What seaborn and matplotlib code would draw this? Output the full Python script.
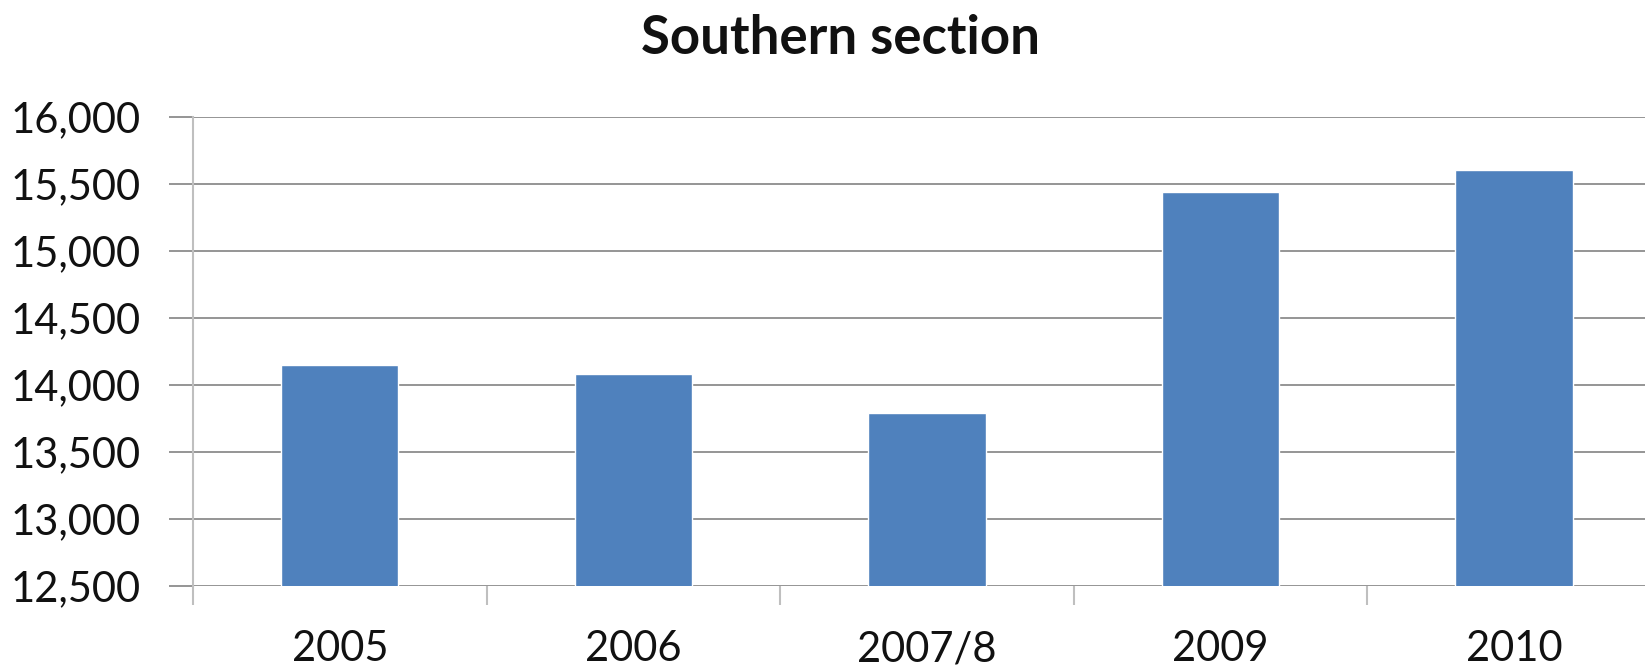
import matplotlib
matplotlib.use("Agg")
import matplotlib.pyplot as plt
import seaborn as sns
import pandas as pd
from matplotlib.ticker import FuncFormatter, FixedLocator

# Data
years = ["2005", "2006", "2007/8", "2009", "2010"]
counts = [14150, 14080, 13790, 15440, 15600]
y_ticks = [12500, 13000, 13500, 14000, 14500, 15000, 15500, 16000]

sns.set_theme(style="white")
plt.rcParams["font.family"] = ["Lato", "DejaVu Sans"]

df = pd.DataFrame({"year": years, "count": counts})

fig = plt.figure(figsize=(16.45, 6.67), dpi=100)
ax = fig.add_axes([0.1173, 0.1219, 0.8924, 0.7031])

sns.barplot(data=df, x="year", y="count", color="#4F81BD", width=0.4,
            saturation=1, ax=ax, zorder=3)

ax.set_xlim(-0.5, len(years) - 0.5)
ax.set_ylim(y_ticks[0], y_ticks[-1])
ax.yaxis.set_major_locator(FixedLocator(y_ticks))
ax.yaxis.set_major_formatter(FuncFormatter(lambda v, p: f"{v:,.0f}"))

grid_col = "#8C8C8C"
axis_col = "#BFBFBF"
ax.yaxis.grid(True, color=grid_col, linewidth=1.3, zorder=0)
ax.xaxis.grid(False)
ax.set_axisbelow(True)

for side in ["top", "right", "bottom"]:
    ax.spines[side].set_visible(False)
ax.spines["left"].set_color(axis_col)
ax.spines["left"].set_linewidth(1.5)

ax.tick_params(axis="y", length=17, width=1.3, color=grid_col, pad=21,
               labelsize=30, labelcolor="#111111", left=True)
ax.tick_params(axis="x", which="major", length=0, pad=32, labelsize=30,
               labelcolor="#111111")
ax.set_xticks([i - 0.5 for i in range(len(years) + 1)], minor=True)
ax.tick_params(axis="x", which="minor", length=14, width=1.5, color=axis_col,
               bottom=True)

ax.set_xlabel("")
ax.set_ylabel("")

fig.text(0.511, 0.943, "Southern section", ha="center", va="center",
         fontsize=38, fontweight="bold", color="#111111")

fig.savefig("out.png", dpi=100, facecolor="white")
